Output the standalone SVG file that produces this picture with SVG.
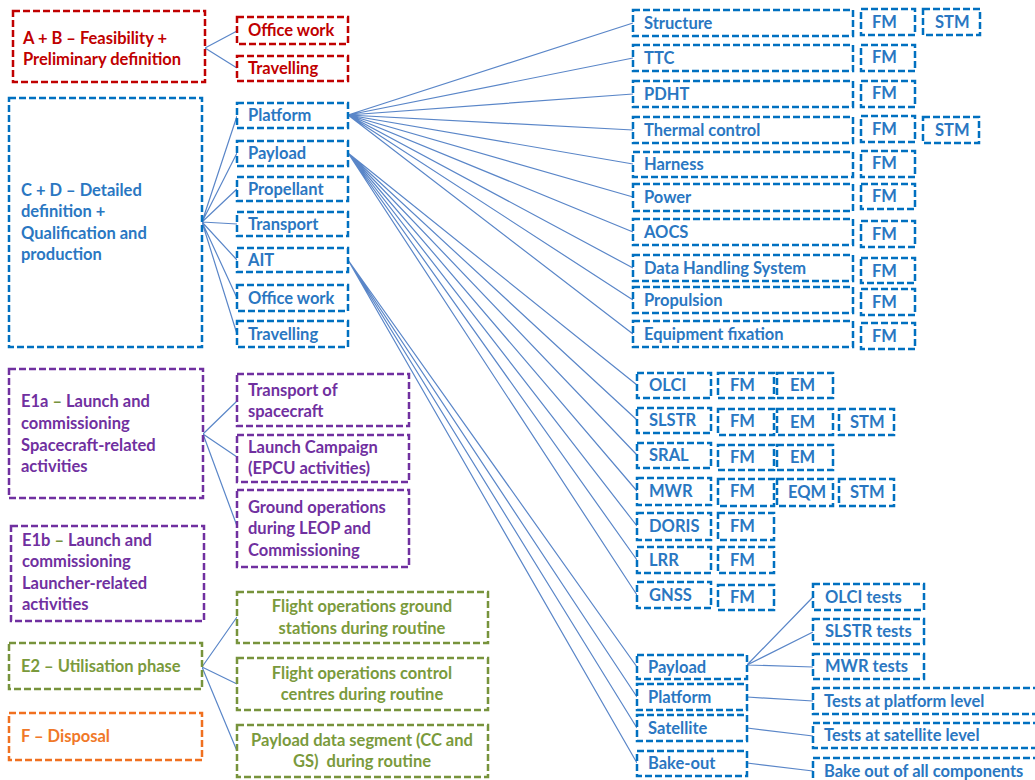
<svg xmlns="http://www.w3.org/2000/svg" width="1035" height="780" viewBox="0 0 1035 780">
<style>
rect{fill:#fff;stroke-width:2.5;stroke-dasharray:7 3}
text{font-family:Lato,"Liberation Sans",sans-serif;font-weight:bold;font-size:16.5px}
.r rect{stroke:#C00000}.r text{fill:#C00000}
.b rect{stroke:#0070C0}.b text{fill:#2A77C2}
.p rect{stroke:#7030A0}.p text{fill:#7030A0}
.g rect{stroke:#77933C}.g text{fill:#7A9A3C}
.o rect{stroke:#F07020}.o text{fill:#F07828}
.dg{fill:#77933C}
.pre{white-space:pre}
#connectors path{fill:none;stroke:#5A86C8;stroke-width:1.2}
.c{text-anchor:middle}
</style>
<rect x="0" y="0" width="1035" height="780" style="fill:#fff;stroke:none"/>
<g id="connectors">
<path d="M205,48L237,31M205,48L237,68"/>
<path d="M202,222L237,116M202,222L237,153M202,222L237,189M202,222L237,224M202,222L237,260M202,222L237,298M202,222L237,334"/>
<path d="M348,115L633,23M348,115L633,58M348,115L633,94M348,115L633,130M348,115L633,164M348,115L633,197M348,115L633,232M348,115L633,268M348,115L633,300M348,115L633,334"/>
<path d="M348,153L637,385M348,153L637,420M348,153L637,455M348,153L637,491M348,153L637,526M348,153L637,560M348,153L637,595"/>
<path d="M348,260L637,667M348,260L637,697M348,260L637,728M348,260L637,763"/>
<path d="M203,434L237,401M203,434L237,457M203,434L237,526"/>
<path d="M202,667L237,617M202,667L237,684M202,667L237,751"/>
<path d="M747,665L813,597M747,665L813,632M747,665L813,667M747,697L813,701M747,728L813,736M747,763L813,771"/>
</g>
<g id="ab" class="r"><rect x="13" y="11" width="192" height="71"/><text x="23" y="44">A + B – Feasibility +</text><text x="23" y="65">Preliminary definition</text></g>
<g id="ab-office" class="r"><rect x="237" y="17" width="111" height="27"/><text x="248" y="36">Office work</text></g>
<g id="ab-travel" class="r"><rect x="237" y="56" width="111" height="25"/><text x="248" y="74">Travelling</text></g>
<g id="cd" class="b"><rect x="9" y="98" width="193" height="249"/><text x="21" y="196">C + D – Detailed</text><text x="21" y="217">definition +</text><text x="21" y="239">Qualification and</text><text x="21" y="260">production</text></g>
<g id="cd-platform" class="b"><rect x="237" y="103" width="111" height="25"/><text x="248" y="121">Platform</text></g>
<g id="cd-payload" class="b"><rect x="237" y="141" width="111" height="25"/><text x="248" y="159">Payload</text></g>
<g id="cd-propellant" class="b"><rect x="237" y="177" width="111" height="24"/><text x="248" y="195">Propellant</text></g>
<g id="cd-transport" class="b"><rect x="237" y="212" width="111" height="24"/><text x="248" y="230">Transport</text></g>
<g id="cd-ait" class="b"><rect x="237" y="248" width="111" height="24"/><text x="248" y="266">AIT</text></g>
<g id="cd-office" class="b"><rect x="237" y="285" width="111" height="26"/><text x="248" y="304">Office work</text></g>
<g id="cd-travel" class="b"><rect x="237" y="321" width="111" height="26"/><text x="248" y="340">Travelling</text></g>
<g id="e1a" class="p"><rect x="9" y="369" width="194" height="129"/><text x="21" y="407">E1a <tspan class="dg">–</tspan> Launch and</text><text x="21" y="429">commissioning</text><text x="21" y="451">Spacecraft-related</text><text x="21" y="472">activities</text></g>
<g id="e1a-transport" class="p"><rect x="237" y="374" width="172" height="52"/><text x="248" y="396">Transport of</text><text x="248" y="417">spacecraft</text></g>
<g id="e1a-launch" class="p"><rect x="237" y="435" width="172" height="47"/><text x="248" y="453">Launch Campaign</text><text x="248" y="474">(EPCU activities)</text></g>
<g id="e1a-ground" class="p"><rect x="237" y="490" width="172" height="77"/><text x="248" y="513">Ground operations</text><text x="248" y="534">during LEOP and</text><text x="248" y="556">Commissioning</text></g>
<g id="e1b" class="p"><rect x="11" y="526" width="193" height="95"/><text x="22" y="546">E1b <tspan class="dg">–</tspan> Launch and</text><text x="22" y="567">commissioning</text><text x="22" y="589">Launcher-related</text><text x="22" y="610">activities</text></g>
<g id="e2" class="g"><rect x="9" y="643" width="193" height="46"/><text x="21" y="672">E2 – Utilisation phase</text></g>
<g id="e2-ground" class="g"><rect x="237" y="592" width="251" height="51"/><text class="c" x="362" y="612">Flight operations ground</text><text class="c" x="362" y="634">stations during routine</text></g>
<g id="e2-control" class="g"><rect x="237" y="658" width="251" height="52"/><text class="c" x="362" y="679">Flight operations control</text><text class="c" x="362" y="700">centres during routine</text></g>
<g id="e2-payload" class="g"><rect x="237" y="725" width="251" height="52"/><text class="c" x="362" y="746">Payload data segment (CC and</text><text class="c pre" x="362" y="767">GS)  during routine</text></g>
<g id="f" class="o"><rect x="9" y="713" width="193" height="47"/><text x="21" y="742">F – Disposal</text></g>
<g id="structure" class="b"><rect x="633" y="10" width="220" height="26"/><text x="644" y="29">Structure</text><rect x="861" y="9" width="54" height="26"/><text x="872" y="28">FM</text><rect x="923" y="9" width="57" height="26"/><text x="935" y="28">STM</text></g>
<g id="ttc" class="b"><rect x="633" y="45" width="220" height="26"/><text x="644" y="64">TTC</text><rect x="861" y="45" width="54" height="26"/><text x="872" y="63">FM</text></g>
<g id="pdht" class="b"><rect x="633" y="81" width="220" height="26"/><text x="644" y="100">PDHT</text><rect x="861" y="81" width="54" height="26"/><text x="872" y="99">FM</text></g>
<g id="thermal" class="b"><rect x="633" y="117" width="220" height="26"/><text x="644" y="136">Thermal control</text><rect x="861" y="116" width="54" height="26"/><text x="872" y="135">FM</text><rect x="923" y="117" width="56" height="26"/><text x="935" y="136">STM</text></g>
<g id="harness" class="b"><rect x="633" y="152" width="220" height="25"/><text x="644" y="170">Harness</text><rect x="861" y="151" width="54" height="26"/><text x="872" y="169">FM</text></g>
<g id="power" class="b"><rect x="633" y="184" width="220" height="27"/><text x="644" y="203">Power</text><rect x="861" y="184" width="54" height="25"/><text x="872" y="202">FM</text></g>
<g id="aocs" class="b"><rect x="633" y="219" width="220" height="26"/><text x="644" y="238">AOCS</text><rect x="861" y="221" width="54" height="26"/><text x="872" y="240">FM</text></g>
<g id="dhs" class="b"><rect x="633" y="255" width="220" height="26"/><text x="644" y="274">Data Handling System</text><rect x="861" y="258" width="54" height="25"/><text x="872" y="277">FM</text></g>
<g id="propulsion" class="b"><rect x="633" y="287" width="220" height="26"/><text x="644" y="306">Propulsion</text><rect x="861" y="289" width="54" height="26"/><text x="872" y="308">FM</text></g>
<g id="fixation" class="b"><rect x="633" y="321" width="220" height="26"/><text x="644" y="340">Equipment fixation</text><rect x="861" y="323" width="54" height="26"/><text x="872" y="342">FM</text></g>
<g id="olci" class="b"><rect x="637" y="373" width="74" height="25"/><text x="649" y="391">OLCI</text><rect x="718" y="373" width="56" height="25"/><text x="730" y="391">FM</text><rect x="777" y="373" width="56" height="25"/><text x="790" y="391">EM</text></g>
<g id="slstr" class="b"><rect x="637" y="408" width="74" height="25"/><text x="649" y="426">SLSTR</text><rect x="718" y="409" width="56" height="26"/><text x="730" y="427">FM</text><rect x="777" y="409" width="56" height="26"/><text x="790" y="428">EM</text><rect x="839" y="409" width="55" height="26"/><text x="850" y="428">STM</text></g>
<g id="sral" class="b"><rect x="637" y="443" width="74" height="25"/><text x="649" y="461">SRAL</text><rect x="718" y="445" width="56" height="25"/><text x="730" y="463">FM</text><rect x="777" y="445" width="56" height="25"/><text x="790" y="463">EM</text></g>
<g id="mwr" class="b"><rect x="637" y="478" width="74" height="27"/><text x="649" y="497">MWR</text><rect x="718" y="479" width="56" height="27"/><text x="730" y="497">FM</text><rect x="777" y="479" width="56" height="27"/><text x="788" y="498">EQM</text><rect x="839" y="479" width="55" height="27"/><text x="850" y="498">STM</text></g>
<g id="doris" class="b"><rect x="637" y="513" width="74" height="27"/><text x="649" y="532">DORIS</text><rect x="718" y="513" width="56" height="27"/><text x="730" y="532">FM</text></g>
<g id="lrr" class="b"><rect x="637" y="547" width="74" height="26"/><text x="649" y="566">LRR</text><rect x="718" y="547" width="56" height="26"/><text x="730" y="566">FM</text></g>
<g id="gnss" class="b"><rect x="637" y="582" width="74" height="26"/><text x="649" y="601">GNSS</text><rect x="718" y="585" width="56" height="25"/><text x="730" y="603">FM</text></g>
<g id="ait-payload" class="b"><rect x="637" y="655" width="110" height="24"/><text x="648" y="673">Payload</text></g>
<g id="ait-platform" class="b"><rect x="637" y="684" width="110" height="26"/><text x="648" y="703">Platform</text></g>
<g id="ait-satellite" class="b"><rect x="637" y="715" width="110" height="26"/><text x="648" y="734">Satellite</text></g>
<g id="ait-bakeout" class="b"><rect x="637" y="751" width="110" height="25"/><text x="648" y="769">Bake-out</text></g>
<g id="olci-tests" class="b"><rect x="813" y="584" width="111" height="26"/><text x="825" y="603">OLCI tests</text></g>
<g id="slstr-tests" class="b"><rect x="813" y="619" width="111" height="25"/><text x="825" y="637">SLSTR tests</text></g>
<g id="mwr-tests" class="b"><rect x="813" y="654" width="111" height="25"/><text x="825" y="672">MWR tests</text></g>
<g id="platform-tests" class="b"><rect x="813" y="688" width="240" height="26"/><text x="824" y="707">Tests at platform level</text></g>
<g id="satellite-tests" class="b"><rect x="813" y="723" width="240" height="25"/><text x="824" y="741">Tests at satellite level</text></g>
<g id="bakeout-tests" class="b"><rect x="813" y="758" width="240" height="30"/><text x="824" y="777">Bake out of all components</text></g>
</svg>
